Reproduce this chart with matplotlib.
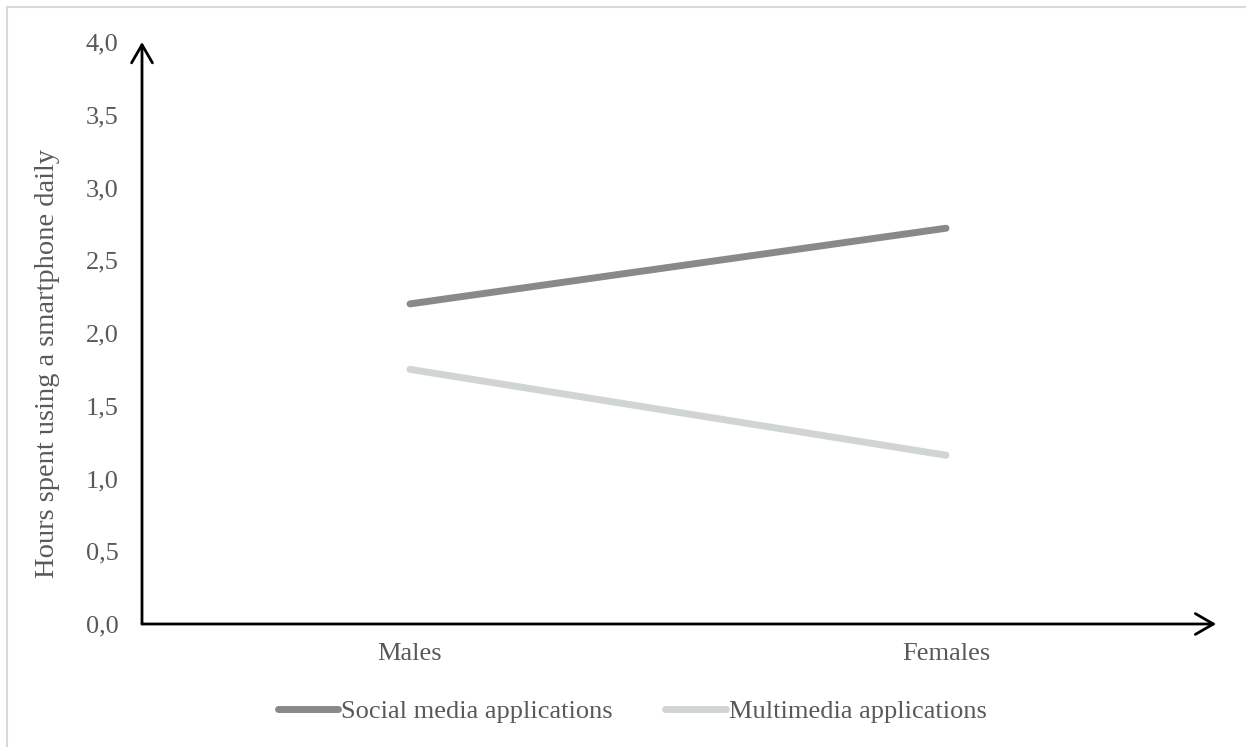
import matplotlib
matplotlib.use("Agg")
import matplotlib.pyplot as plt
from matplotlib.lines import Line2D

categories = ["Males", "Females"]
social_media = [2.20, 2.72]
multimedia = [1.75, 1.16]
y_ticks = [0.0, 0.5, 1.0, 1.5, 2.0, 2.5, 3.0, 3.5, 4.0]
y_tick_labels = ["0,0", "0,5", "1,0", "1,5", "2,0", "2,5", "3,0", "3,5", "4,0"]

TEXT_COLOR = "#595959"
SOCIAL_COLOR = "#898989"
MULTI_COLOR = "#d0d4d3"

plt.rcParams["font.family"] = ["Liberation Serif", "DejaVu Serif"]

fig = plt.figure(figsize=(12.46, 7.47), dpi=100)
ax = fig.add_axes([142 / 1246, 1 - 624 / 747, (1214 - 142) / 1246, (624 - 42) / 747])

x = list(range(len(categories)))
ax.plot(x, social_media, color=SOCIAL_COLOR, lw=5, solid_capstyle="round", label="Social media applications")
ax.plot(x, multimedia, color=MULTI_COLOR, lw=5, solid_capstyle="round", label="Multimedia applications")

ax.set_xlim(-0.5, 1.5)
ax.set_ylim(0, 4)
ax.set_xticks(x)
ax.set_xticklabels(categories)
ax.set_yticks(y_ticks)
ax.set_yticklabels(y_tick_labels)
ax.tick_params(axis="both", length=0, labelsize=19, labelcolor=TEXT_COLOR)
ax.tick_params(axis="x", pad=14)
ax.tick_params(axis="y", pad=17)
for s in ax.spines.values():
    s.set_visible(False)

# axes with open arrow heads
arrow = dict(arrowstyle="->,head_length=1.3,head_width=0.75", color="black", lw=2, shrinkA=0, shrinkB=0)
ax.annotate("", xy=(1.002, 0), xytext=(0, 0), xycoords="axes fraction", textcoords="axes fraction",
            arrowprops=arrow, annotation_clip=False)
ax.annotate("", xy=(0, 1.0), xytext=(0, 0), xycoords="axes fraction", textcoords="axes fraction",
            arrowprops=arrow, annotation_clip=False)

fig.text(48 / 1246, 1 - 364 / 747, "Hours spent using a smartphone daily", rotation=90,
         ha="center", va="center", fontsize=20.5, color=TEXT_COLOR)

handles = [Line2D([], [], color=SOCIAL_COLOR, lw=5, solid_capstyle="round"),
           Line2D([], [], color=MULTI_COLOR, lw=5, solid_capstyle="round")]
fig.legend(handles, ["Social media applications", "Multimedia applications"], loc="center",
           bbox_to_anchor=(632 / 1246, 1 - 711 / 747), ncol=2, frameon=False, fontsize=19,
           labelcolor=TEXT_COLOR, handlelength=2.3, handletextpad=0.1, columnspacing=2.0)

# thin frame on top and left edge
fig.add_artist(Line2D([7 / 1246, 1], [1 - 7 / 747, 1 - 7 / 747], color="#d9d9d9", lw=1.5))
fig.add_artist(Line2D([7 / 1246, 7 / 1246], [0, 1 - 7 / 747], color="#d9d9d9", lw=1.5))

fig.savefig("out.png", dpi=100, facecolor="white")
